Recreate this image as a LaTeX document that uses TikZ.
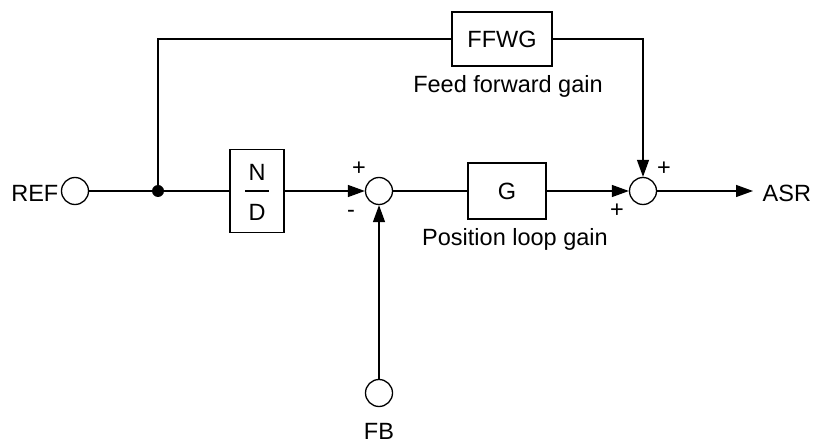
\documentclass[tikz,border=0pt]{standalone}
\usepackage{fontspec}
\setmainfont{Liberation Sans}
\usetikzlibrary{arrows.meta}
\begin{document}
\begin{tikzpicture}[x=1pt,y=-1pt,line width=1.3pt,
  every node/.style={font=\fontsize{23.5}{28}\selectfont,inner sep=0pt},
  sumc/.style={draw,circle,minimum size=27pt},
  arr/.style={-{Triangle[length=17pt,width=12pt]}},
  sgn/.style={font=\fontsize{23.5}{28}\selectfont}]
\useasboundingbox (0,0) rectangle (813,443);
\node[sumc] (ref) at (75,191) {};
\node[anchor=east] (reft) at (59,193) {REF};
\coordinate (j) at (158,191);
\node[draw,minimum width=54pt,minimum height=83pt] (nd) at (257,191) {};
\node (n) at (257,172) {N};
\node (d) at (257,212) {D};
\draw (245,191) -- (269,191);
\node[sumc] (s1) at (379,191) {};
\node[draw,minimum width=78pt,minimum height=56pt] (g) at (507,191) {G};
\node (plg) at (515,239) {Position loop gain};
\node[sumc] (s2) at (643,191) {};
\node[draw,minimum width=100pt,minimum height=54pt] (ff) at (502,39) {FFWG};
\node (ffg) at (508,86) {Feed forward gain};
\node[sumc] (fb) at (379,393) {};
\node (fbt) at (379,431) {FB};
\node[anchor=west] (asr) at (762,193) {ASR};
\coordinate (asrend) at (753,191);
\coordinate (jt) at (158,39);
\coordinate (rt) at (643,39);
\node[sgn] (p1) at (359,169) {+};
\node[sgn] (m1) at (351,214) {-};
\node[sgn] (p2) at (664,169) {+};
\node[sgn] (p3) at (617,211) {+};
\draw (ref.east) -- (j);
\draw (j) -- (nd.west);
\fill (j) circle (6pt);
\draw[arr] (nd) -- (s1);
\draw (s1) -- (g);
\draw[arr] (g) -- (s2);
\draw[arr] (fb) -- (s1);
\draw (j) -- (jt) -- (ff.west);
\draw[arr] (ff.east) -- (rt) -- (s2);
\draw[arr] (s2) -- (asrend);
\end{tikzpicture}
\end{document}
